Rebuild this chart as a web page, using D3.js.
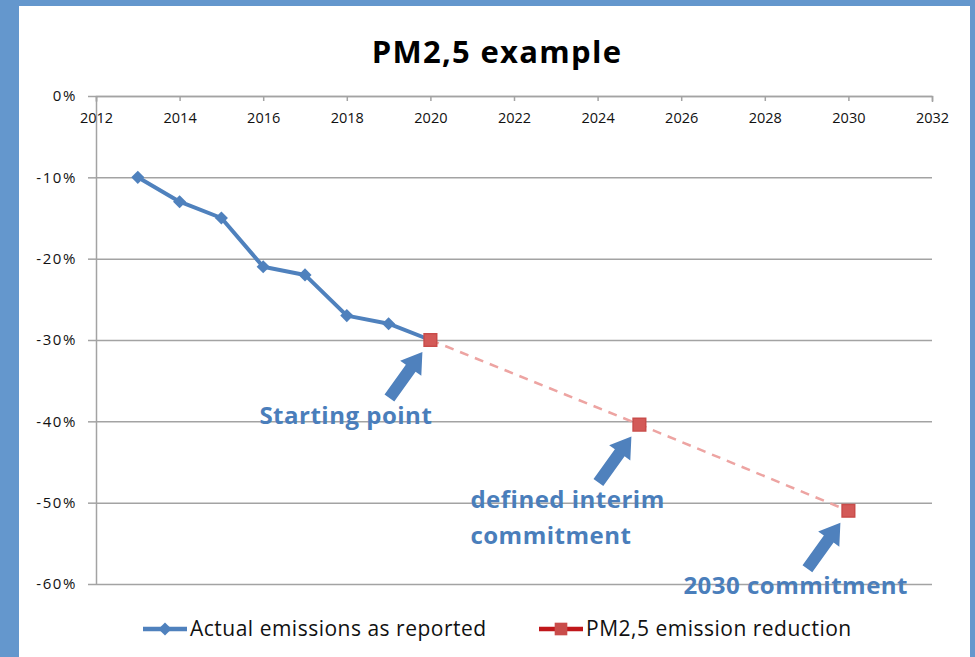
<!DOCTYPE html>
<html>
<head>
<meta charset="utf-8">
<script src="https://cdn.jsdelivr.net/npm/d3@7"></script>
<style>
  html, body { margin: 0; padding: 0; background: #6497cd; }
  svg { display: block; }
</style>
</head>
<body>
<script>
// chart values
const xTicks = [2012, 2014, 2016, 2018, 2020, 2022, 2024, 2026, 2028, 2030, 2032];
const yTicks = [0, -0.1, -0.2, -0.3, -0.4, -0.5, -0.6];

const actualYears = [2013, 2014, 2015, 2016, 2017, 2018, 2019, 2020];
const actualValues = [-0.10, -0.13, -0.15, -0.21, -0.22, -0.27, -0.28, -0.30];

const targetYears = [2020, 2025, 2030];
const targetValues = [-0.30, -0.404, -0.51];

const seriesNames = ['Actual emissions as reported', 'PM2,5 emission reduction'];

const notes = [
    { year: 2020, value: -0.30, lines: ['Starting point'] },
    { year: 2025, value: -0.404, lines: ['defined interim', 'commitment'] },
    { year: 2030, value: -0.51, lines: ['2030 commitment'] }
];

const width = 975,
    height = 657;

const blue = '#4f81bd',
    red = '#c94c4a',
    grid = '#a3a3a3',
    font = '"Open Sans", Lato, sans-serif';

const svg = d3.select('body')
    .append('svg')
    .attr('width', width)
    .attr('height', height);

// white panel over blue frame
svg.append('rect')
    .attr('x', 19).attr('y', 6)
    .attr('width', 951).attr('height', height - 6)
    .attr('fill', '#fff');

const xScale = d3.scaleLinear()
    .domain([2012, 2032])
    .range([96, 932]);

const yScale = d3.scaleLinear()
    .domain([-0.6, 0])
    .range([584, 96]);

// title
svg.append('text')
    .attr('x', 497).attr('y', 63)
    .attr('text-anchor', 'middle')
    .attr('font-family', font)
    .attr('font-weight', 'bold')
    .attr('font-size', 31)
    .attr('letter-spacing', 1.3)
    .text('PM2,5 example');

// grid lines
svg.append('g')
    .attr('transform', 'translate(' + xScale(2012) + ',0)')
    .call(d3.axisLeft(yScale).tickValues(yTicks).tickSize(-(xScale(2032) - xScale(2012))).tickFormat(''))
    .call(g => g.select('.domain').remove())
    .call(g => g.selectAll('line').attr('stroke', grid).attr('stroke-width', 1.5));

// y axis
svg.append('g')
    .attr('id', 'y-axis')
    .attr('transform', 'translate(' + xScale(2012) + ',0)')
    .call(d3.axisLeft(yScale).tickValues(yTicks).tickSize(8).tickSizeOuter(0).tickPadding(11)
        .tickFormat(d => Math.round(d * 100) + '%'))
    .call(g => g.select('.domain').attr('stroke', grid).attr('stroke-width', 1.5))
    .call(g => g.selectAll('line').attr('stroke', grid).attr('stroke-width', 1.5))
    .call(g => g.selectAll('text').attr('font-family', font).attr('font-size', 15)
        .attr('letter-spacing', 1.6).attr('fill', '#111'));

// x axis along 0%
svg.append('g')
    .attr('id', 'x-axis')
    .attr('transform', 'translate(0,' + yScale(0) + ')')
    .call(d3.axisBottom(xScale).tickValues(xTicks).tickSize(5).tickSizeOuter(6).tickPadding(12)
        .tickFormat(d3.format('d')))
    .call(g => g.select('.domain').attr('stroke', grid).attr('stroke-width', 1.5))
    .call(g => g.selectAll('line').attr('stroke', grid).attr('stroke-width', 1.5))
    .call(g => g.selectAll('text').attr('font-family', font).attr('font-size', 14.5).attr('fill', '#111'));

const line = d3.line()
    .x(d => xScale(d[0]))
    .y(d => yScale(d[1]));

const actual = d3.zip(actualYears, actualValues);
const target = d3.zip(targetYears, targetValues);

// target path (dashed)
svg.append('path')
    .datum(target)
    .attr('d', line)
    .attr('fill', 'none')
    .attr('stroke', '#eda4a2')
    .attr('stroke-width', 2.5)
    .attr('stroke-dasharray', '9,7');

// actual path
svg.append('path')
    .datum(actual)
    .attr('d', line)
    .attr('fill', 'none')
    .attr('stroke', blue)
    .attr('stroke-width', 4)
    .attr('stroke-linejoin', 'round');

const diamond = d3.symbol().type(d3.symbolDiamond2).size(110);
const square = d3.symbol().type(d3.symbolSquare).size(160);

svg.selectAll('.actual-pt')
    .data(actual)
    .enter()
    .append('path')
    .attr('class', 'actual-pt')
    .attr('transform', d => 'translate(' + xScale(d[0]) + ',' + yScale(d[1]) + ')')
    .attr('d', diamond)
    .attr('fill', blue);

svg.selectAll('.target-pt')
    .data(target)
    .enter()
    .append('path')
    .attr('class', 'target-pt')
    .attr('transform', d => 'translate(' + xScale(d[0]) + ',' + yScale(d[1]) + ')')
    .attr('d', square)
    .attr('fill', '#d35a58')
    .attr('stroke', red)
    .attr('stroke-width', 1.5);

// block arrow from tail to tip
function arrowPath(x0, y0, x1, y1) {
    const dx = x1 - x0, dy = y1 - y0;
    const len = Math.hypot(dx, dy);
    const ux = dx / len, uy = dy / len;
    const px = -uy, py = ux;
    const shaft = 6, head = 13, headLen = 20;
    const bx = x1 - ux * headLen, by = y1 - uy * headLen;
    const pts = [
        [x0 + px * shaft, y0 + py * shaft],
        [bx + px * shaft, by + py * shaft],
        [bx + px * head, by + py * head],
        [x1, y1],
        [bx - px * head, by - py * head],
        [bx - px * shaft, by - py * shaft],
        [x0 - px * shaft, y0 - py * shaft]
    ];
    return 'M' + pts.map(p => p.join(',')).join('L') + 'Z';
}

const noteG = svg.selectAll('.note')
    .data(notes)
    .enter()
    .append('g')
    .attr('class', 'note')
    .attr('transform', d => 'translate(' + xScale(d.year) + ',' + yScale(d.value) + ')');

noteG.append('path')
    .attr('d', arrowPath(-41, 58, -8, 12))
    .attr('fill', blue);

noteG.each(function (d, i) {
    const g = d3.select(this);
    const offX = [-171, -169, -165][i];
    const offY = [84, 83, 83][i];
    d.lines.forEach((t, k) => {
        g.append('text')
            .attr('x', offX)
            .attr('y', offY + k * 36)
            .attr('font-family', font)
            .attr('font-weight', 'bold')
            .attr('font-size', 24)
            .attr('letter-spacing', 0.5)
            .attr('fill', '#4a7ebb')
            .text(t);
    });
});

// legend
const legend = svg.append('g')
    .attr('transform', 'translate(0,629)');

const legItems = [
    { name: seriesNames[0], x: 143, color: blue, sym: diamond, fill: blue },
    { name: seriesNames[1], x: 539, color: '#c0171b', sym: square, fill: '#c94c4a' }
];

const li = legend.selectAll('.leg')
    .data(legItems)
    .enter()
    .append('g')
    .attr('transform', d => 'translate(' + d.x + ',0)');

li.append('line')
    .attr('x1', 0).attr('x2', 44)
    .attr('stroke', d => d.color)
    .attr('stroke-width', 4.5);

li.append('path')
    .attr('transform', 'translate(22,0)')
    .attr('d', d => d.sym())
    .attr('fill', d => d.fill);

li.append('text')
    .attr('x', 47)
    .attr('y', 7)
    .attr('font-family', font)
    .attr('font-size', 21)
    .attr('letter-spacing', 0.5)
    .attr('fill', '#111')
    .text(d => d.name);
</script>
</body>
</html>
